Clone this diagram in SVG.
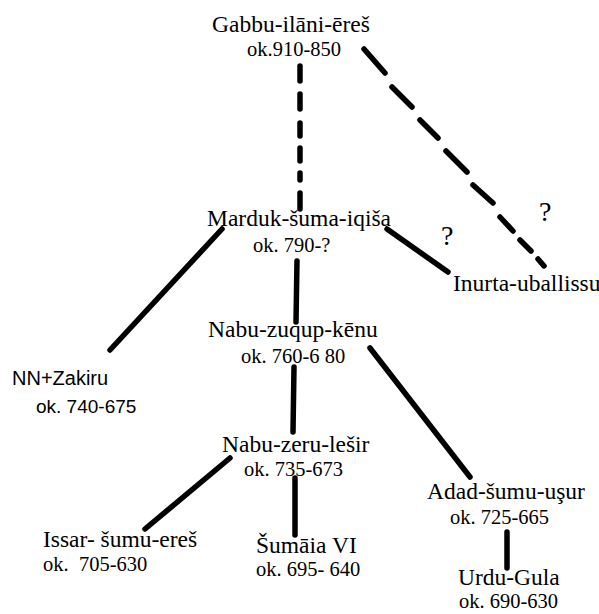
<svg xmlns="http://www.w3.org/2000/svg" width="599" height="614" viewBox="0 0 599 614">
<style>
.n{font-family:"Liberation Serif","Times New Roman",serif;font-size:23.5px;fill:#000;white-space:pre}
.d{font-family:"Liberation Serif","Times New Roman",serif;font-size:20.5px;fill:#000;white-space:pre}
.sn{font-family:"Liberation Sans",Arial,sans-serif;font-size:20px;fill:#000}
.sd{font-family:"Liberation Sans",Arial,sans-serif;font-size:19px;fill:#000}
.l{stroke:#000;stroke-width:5.5;stroke-linecap:round;fill:none}
.q{font-family:"Liberation Serif","Times New Roman",serif;font-size:28px;fill:#000}
</style>
<rect width="599" height="614" fill="#fff"/>
<g id="connectors">
  <g id="dash-vertical">
    <line class="l" x1="300" y1="66" x2="300" y2="81"/>
    <line class="l" x1="300" y1="94" x2="300" y2="109"/>
    <line class="l" x1="300" y1="123" x2="300" y2="136"/>
    <line class="l" x1="300" y1="148" x2="300" y2="161"/>
    <line class="l" x1="300" y1="173" x2="300" y2="180"/>
    <line class="l" x1="300" y1="193" x2="300" y2="209"/>
  </g>
  <g id="dash-diagonal">
    <line class="l" x1="364" y1="49" x2="385" y2="73"/>
    <line class="l" x1="392" y1="87" x2="412" y2="107"/>
    <line class="l" x1="420" y1="120" x2="438" y2="138"/>
    <line class="l" x1="446" y1="151" x2="467" y2="172"/>
    <line class="l" x1="473" y1="185" x2="493" y2="203"/>
    <line class="l" x1="500" y1="217" x2="513" y2="231"/>
    <line class="l" x1="520" y1="240" x2="531" y2="251"/>
    <line class="l" x1="538" y1="259" x2="544" y2="266"/>
  </g>
  <line class="l" x1="387" y1="229" x2="448" y2="272"/>
  <line class="l" x1="222" y1="229" x2="110" y2="350"/>
  <line class="l" x1="297" y1="261" x2="296" y2="322"/>
  <line class="l" x1="294" y1="367" x2="293" y2="432"/>
  <line class="l" x1="370" y1="348" x2="470" y2="477"/>
  <line class="l" x1="230" y1="458" x2="145" y2="529"/>
  <line class="l" x1="295" y1="478" x2="295" y2="535"/>
  <line class="l" x1="507" y1="532" x2="507" y2="568"/>
</g>
<g id="q1"><text class="q" x="441" y="245">?</text></g>
<g id="q2"><text class="q" x="539" y="221">?</text></g>
<g id="gabbu">
  <text class="n" x="212" y="32">Gabbu-ilāni-ēreš</text>
  <text class="d" x="247" y="56">ok.910-850</text>
</g>
<g id="marduk">
  <text class="n" x="207" y="226">Marduk-šuma-iqiša</text>
  <text class="d" x="253" y="252">ok. 790-?</text>
</g>
<g id="inurta">
  <text class="n" x="453" y="291">Inurta-uballissu</text>
</g>
<g id="zakiru">
  <text class="sn" x="12" y="385">NN+Zakiru</text>
  <text class="sd" x="36" y="413">ok. 740-675</text>
</g>
<g id="nabu-zuqup">
  <text class="n" x="208" y="337">Nabu-zuqup-kēnu</text>
  <text class="d" x="241" y="363">ok. 760-6 80</text>
</g>
<g id="nabu-zeru">
  <text class="n" x="222" y="452">Nabu-zeru-lešir</text>
  <text class="d" x="244" y="476">ok. 735-673</text>
</g>
<g id="issar">
  <text class="n" x="43" y="547">Issar- šumu-ereš</text>
  <text class="d" x="43" y="571">ok.  705-630</text>
</g>
<g id="sumaia">
  <text class="n" x="256" y="553">Šumāia VI</text>
  <text class="d" x="256" y="576">ok. 695- 640</text>
</g>
<g id="adad">
  <text class="n" x="427" y="499">Adad-šumu-uşur</text>
  <text class="d" x="450" y="524">ok. 725-665</text>
</g>
<g id="urdu">
  <text class="n" x="458" y="585">Urdu-Gula</text>
  <text class="d" x="459" y="608">ok. 690-630</text>
</g>
</svg>
